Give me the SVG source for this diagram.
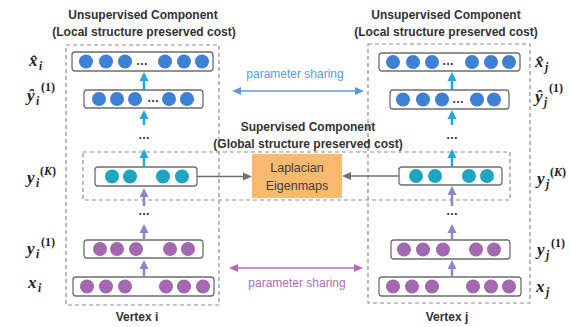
<svg xmlns="http://www.w3.org/2000/svg" width="570" height="327" viewBox="0 0 570 327">
<style>
.bg{fill:#ffffff}
.dash{fill:none;stroke:#8c8c8c;stroke-width:1.2;stroke-dasharray:4 3}
.layer{fill:#ffffff;stroke:#6e6e6e;stroke-width:1.3}
.cb{fill:#3e80d3}
.ct{fill:#1fa5c1}
.cp{fill:#a368b0}
.dots{font-family:"Liberation Sans",Arial,sans-serif;font-size:12px;font-weight:bold;fill:#333;text-anchor:middle}
.title{font-family:"Liberation Sans",Arial,sans-serif;font-size:12px;font-weight:bold;fill:#333;text-anchor:middle}
.share{font-family:"Liberation Sans",Arial,sans-serif;font-size:12px;text-anchor:middle}
.lap{font-family:"Liberation Sans",Arial,sans-serif;font-size:12.5px;fill:#404040;text-anchor:middle}
.m{font-family:"Liberation Serif","Times New Roman",serif;font-size:17px;font-weight:bold;font-style:italic;fill:#222}
.ms{font-family:"Liberation Serif","Times New Roman",serif;font-size:11.5px;font-weight:bold;font-style:italic;fill:#222}
.mu{font-family:"Liberation Serif","Times New Roman",serif;font-size:12px;font-weight:bold;fill:#222}
.acy{stroke:#20a8dd;stroke-width:2.5;fill:none}
.alv{stroke:#8a87cc;stroke-width:2.5;fill:none}
.agr{stroke:#707070;stroke-width:1.4;fill:none}
.abl{stroke:#5e9ad6;stroke-width:1.5;fill:none}
.apu{stroke:#b36ab9;stroke-width:1.5;fill:none}
</style>
<defs>
<marker id="mcy" markerUnits="userSpaceOnUse" markerWidth="10" markerHeight="10" viewBox="0 0 10 10" refX="3" refY="5" orient="auto"><path d="M0,0.5 L9,5 L0,9.5 z" fill="#20a8dd"/></marker>
<marker id="mlv" markerUnits="userSpaceOnUse" markerWidth="10" markerHeight="10" viewBox="0 0 10 10" refX="3" refY="5" orient="auto"><path d="M0,0.5 L9,5 L0,9.5 z" fill="#8a87cc"/></marker>
<marker id="mgr" markerUnits="userSpaceOnUse" markerWidth="10" markerHeight="10" viewBox="0 0 10 10" refX="2" refY="5" orient="auto"><path d="M0,1 L9,5 L0,9 z" fill="#707070"/></marker>
<marker id="mbl" markerUnits="userSpaceOnUse" markerWidth="10" markerHeight="10" viewBox="0 0 10 10" refX="2" refY="5" orient="auto-start-reverse"><path d="M0,1 L9,5 L0,9 z" fill="#5e9ad6"/></marker>
<marker id="mpu" markerUnits="userSpaceOnUse" markerWidth="10" markerHeight="10" viewBox="0 0 10 10" refX="2" refY="5" orient="auto-start-reverse"><path d="M0,1 L9,5 L0,9 z" fill="#b36ab9"/></marker>
</defs>
<rect class="bg" x="0" y="0" width="570" height="327"/>

<!-- component frames -->
<g id="unsupervised-i">
<rect class="dash" x="66" y="45" width="153" height="260"/>
<text class="title" x="143" y="19">Unsupervised Component</text>
<text class="title" x="144" y="36">(Local structure preserved cost)</text>
</g>
<g id="unsupervised-j">
<rect class="dash" x="368" y="44" width="162" height="259"/>
<text class="title" x="446" y="19">Unsupervised Component</text>
<text class="title" x="446" y="36">(Local structure preserved cost)</text>
</g>
<g id="supervised">
<rect class="dash" x="83" y="152" width="427" height="48"/>
<text class="title" x="308" y="131">Supervised Component</text>
<text class="title" x="308" y="148">(Global structure preserved cost)</text>
</g>

<!-- left column -->
<g id="xhat-i">
<rect class="layer" x="72" y="52" width="141" height="19" rx="3"/>
<circle class="cb" cx="86" cy="61.5" r="7"/><circle class="cb" cx="106" cy="61.5" r="7"/><circle class="cb" cx="125" cy="61.5" r="7"/>
<text class="dots" x="142" y="65">…</text>
<circle class="cb" cx="165" cy="61.5" r="7"/><circle class="cb" cx="184" cy="61.5" r="7"/><circle class="cb" cx="202" cy="61.5" r="7"/>
</g>
<g id="yhat-i">
<rect class="layer" x="84" y="90" width="119" height="18" rx="3"/>
<circle class="cb" cx="99" cy="99" r="7"/><circle class="cb" cx="117" cy="99" r="7"/><circle class="cb" cx="135" cy="99" r="7"/>
<text class="dots" x="153" y="102">…</text>
<circle class="cb" cx="169" cy="99" r="7"/><circle class="cb" cx="187" cy="99" r="7"/>
</g>
<g id="yK-i">
<rect class="layer" x="95" y="167" width="102" height="19" rx="3"/>
<circle class="ct" cx="112" cy="176.5" r="7"/><circle class="ct" cx="130" cy="176.5" r="7"/><circle class="ct" cx="163" cy="176.5" r="7"/><circle class="ct" cx="182" cy="176.5" r="7"/>
</g>
<g id="y1-i">
<rect class="layer" x="84" y="240" width="119" height="18" rx="3"/>
<circle class="cp" cx="100" cy="249" r="7"/><circle class="cp" cx="117" cy="249" r="7"/><circle class="cp" cx="136" cy="249" r="7"/><circle class="cp" cx="170" cy="249" r="7"/><circle class="cp" cx="188" cy="249" r="7"/>
</g>
<g id="x-i">
<rect class="layer" x="73" y="277" width="141" height="19" rx="3"/>
<circle class="cp" cx="87" cy="286.5" r="7"/><circle class="cp" cx="106" cy="286.5" r="7"/><circle class="cp" cx="125" cy="286.5" r="7"/><circle class="cp" cx="166" cy="286.5" r="7"/><circle class="cp" cx="184" cy="286.5" r="7"/><circle class="cp" cx="203" cy="286.5" r="7"/>
</g>
<text class="dots" x="144" y="139">…</text>
<text class="dots" x="144" y="215">…</text>
<text class="title" x="137" y="321">Vertex i</text>

<!-- right column -->
<g id="xhat-j">
<rect class="layer" x="379" y="53" width="141" height="18" rx="3"/>
<circle class="cb" cx="393" cy="62" r="7"/><circle class="cb" cx="413" cy="62" r="7"/><circle class="cb" cx="432" cy="62" r="7"/>
<text class="dots" x="448" y="65">…</text>
<circle class="cb" cx="472" cy="62" r="7"/><circle class="cb" cx="491" cy="62" r="7"/><circle class="cb" cx="509" cy="62" r="7"/>
</g>
<g id="yhat-j">
<rect class="layer" x="390" y="90" width="119" height="19" rx="3"/>
<circle class="cb" cx="403" cy="99.5" r="7"/><circle class="cb" cx="423" cy="99.5" r="7"/><circle class="cb" cx="442" cy="99.5" r="7"/>
<text class="dots" x="458" y="103">…</text>
<circle class="cb" cx="477" cy="99.5" r="7"/><circle class="cb" cx="494" cy="99.5" r="7"/>
</g>
<g id="yK-j">
<rect class="layer" x="399" y="167" width="103" height="18" rx="3"/>
<circle class="ct" cx="416" cy="176" r="7"/><circle class="ct" cx="435" cy="176" r="7"/><circle class="ct" cx="469" cy="176" r="7"/><circle class="ct" cx="487" cy="176" r="7"/>
</g>
<g id="y1-j">
<rect class="layer" x="391" y="240" width="119" height="19" rx="3"/>
<circle class="cp" cx="404" cy="249.5" r="7"/><circle class="cp" cx="423" cy="249.5" r="7"/><circle class="cp" cx="443" cy="249.5" r="7"/><circle class="cp" cx="476" cy="249.5" r="7"/><circle class="cp" cx="494" cy="249.5" r="7"/>
</g>
<g id="x-j">
<rect class="layer" x="379" y="277" width="142" height="19" rx="3"/>
<circle class="cp" cx="393" cy="286.5" r="7"/><circle class="cp" cx="412" cy="286.5" r="7"/><circle class="cp" cx="432" cy="286.5" r="7"/><circle class="cp" cx="473" cy="286.5" r="7"/><circle class="cp" cx="491" cy="286.5" r="7"/><circle class="cp" cx="509" cy="286.5" r="7"/>
</g>
<text class="dots" x="452" y="139">…</text>
<text class="dots" x="452" y="215">…</text>
<text class="title" x="447" y="321">Vertex j</text>

<!-- Laplacian -->
<g id="laplacian">
<rect x="252" y="154" width="90" height="44" fill="#f9b96f"/>
<text class="lap" x="297" y="172">Laplacian</text>
<text class="lap" x="297" y="190">Eigenmaps</text>
</g>

<!-- connectors -->
<g id="connectors">
<line class="acy" x1="144" y1="90" x2="144" y2="78" marker-end="url(#mcy)"/>
<line class="acy" x1="144" y1="125" x2="144" y2="116" marker-end="url(#mcy)"/>
<line class="acy" x1="144" y1="167" x2="144" y2="155" marker-end="url(#mcy)"/>
<line class="alv" x1="144" y1="206" x2="144" y2="194" marker-end="url(#mlv)"/>
<line class="alv" x1="144" y1="240" x2="144" y2="230" marker-end="url(#mlv)"/>
<line class="alv" x1="144" y1="277" x2="144" y2="266" marker-end="url(#mlv)"/>
<line class="acy" x1="452" y1="90" x2="452" y2="78" marker-end="url(#mcy)"/>
<line class="acy" x1="452" y1="125" x2="452" y2="116" marker-end="url(#mcy)"/>
<line class="acy" x1="452" y1="167" x2="452" y2="155" marker-end="url(#mcy)"/>
<line class="alv" x1="452" y1="206" x2="452" y2="192" marker-end="url(#mlv)"/>
<line class="alv" x1="452" y1="240" x2="452" y2="230" marker-end="url(#mlv)"/>
<line class="alv" x1="452" y1="277" x2="452" y2="266" marker-end="url(#mlv)"/>
<line class="agr" x1="197" y1="176.5" x2="245" y2="176.5" marker-end="url(#mgr)"/>
<line class="agr" x1="399" y1="176" x2="349" y2="176" marker-end="url(#mgr)"/>
<line class="abl" x1="239" y1="91" x2="357" y2="91" marker-start="url(#mbl)" marker-end="url(#mbl)"/>
<line class="apu" x1="236" y1="268" x2="356" y2="268" marker-start="url(#mpu)" marker-end="url(#mpu)"/>
</g>
<text class="share" x="295" y="78" fill="#5e9ad6">parameter sharing</text>
<text class="share" x="297" y="287" fill="#b36ab9">parameter sharing</text>

<!-- math labels left -->
<g id="labels-left">
<text class="m" x="29" y="66">x̂</text><text class="ms" x="39" y="70">i</text>
<text class="m" x="27" y="101">ŷ</text><text class="ms" x="36" y="105">i</text><text class="mu" x="41" y="91">(1)</text>
<text class="m" x="27" y="183">y</text><text class="ms" x="36" y="187">i</text><text class="mu" x="40" y="175">(<tspan font-style="italic">K</tspan>)</text>
<text class="m" x="27" y="254">y</text><text class="ms" x="36" y="258">i</text><text class="mu" x="41" y="246">(1)</text>
<text class="m" x="28" y="288">x</text><text class="ms" x="38" y="292">i</text>
</g>
<g id="labels-right">
<text class="m" x="535" y="67">x̂</text><text class="ms" x="545" y="71">j</text>
<text class="m" x="535" y="102">ŷ</text><text class="ms" x="544" y="106">j</text><text class="mu" x="549" y="92">(1)</text>
<text class="m" x="537" y="184">y</text><text class="ms" x="546" y="188">j</text><text class="mu" x="550" y="176">(<tspan font-style="italic">K</tspan>)</text>
<text class="m" x="537" y="255">y</text><text class="ms" x="546" y="259">j</text><text class="mu" x="551" y="247">(1)</text>
<text class="m" x="536" y="292">x</text><text class="ms" x="546" y="296">j</text>
</g>
</svg>
